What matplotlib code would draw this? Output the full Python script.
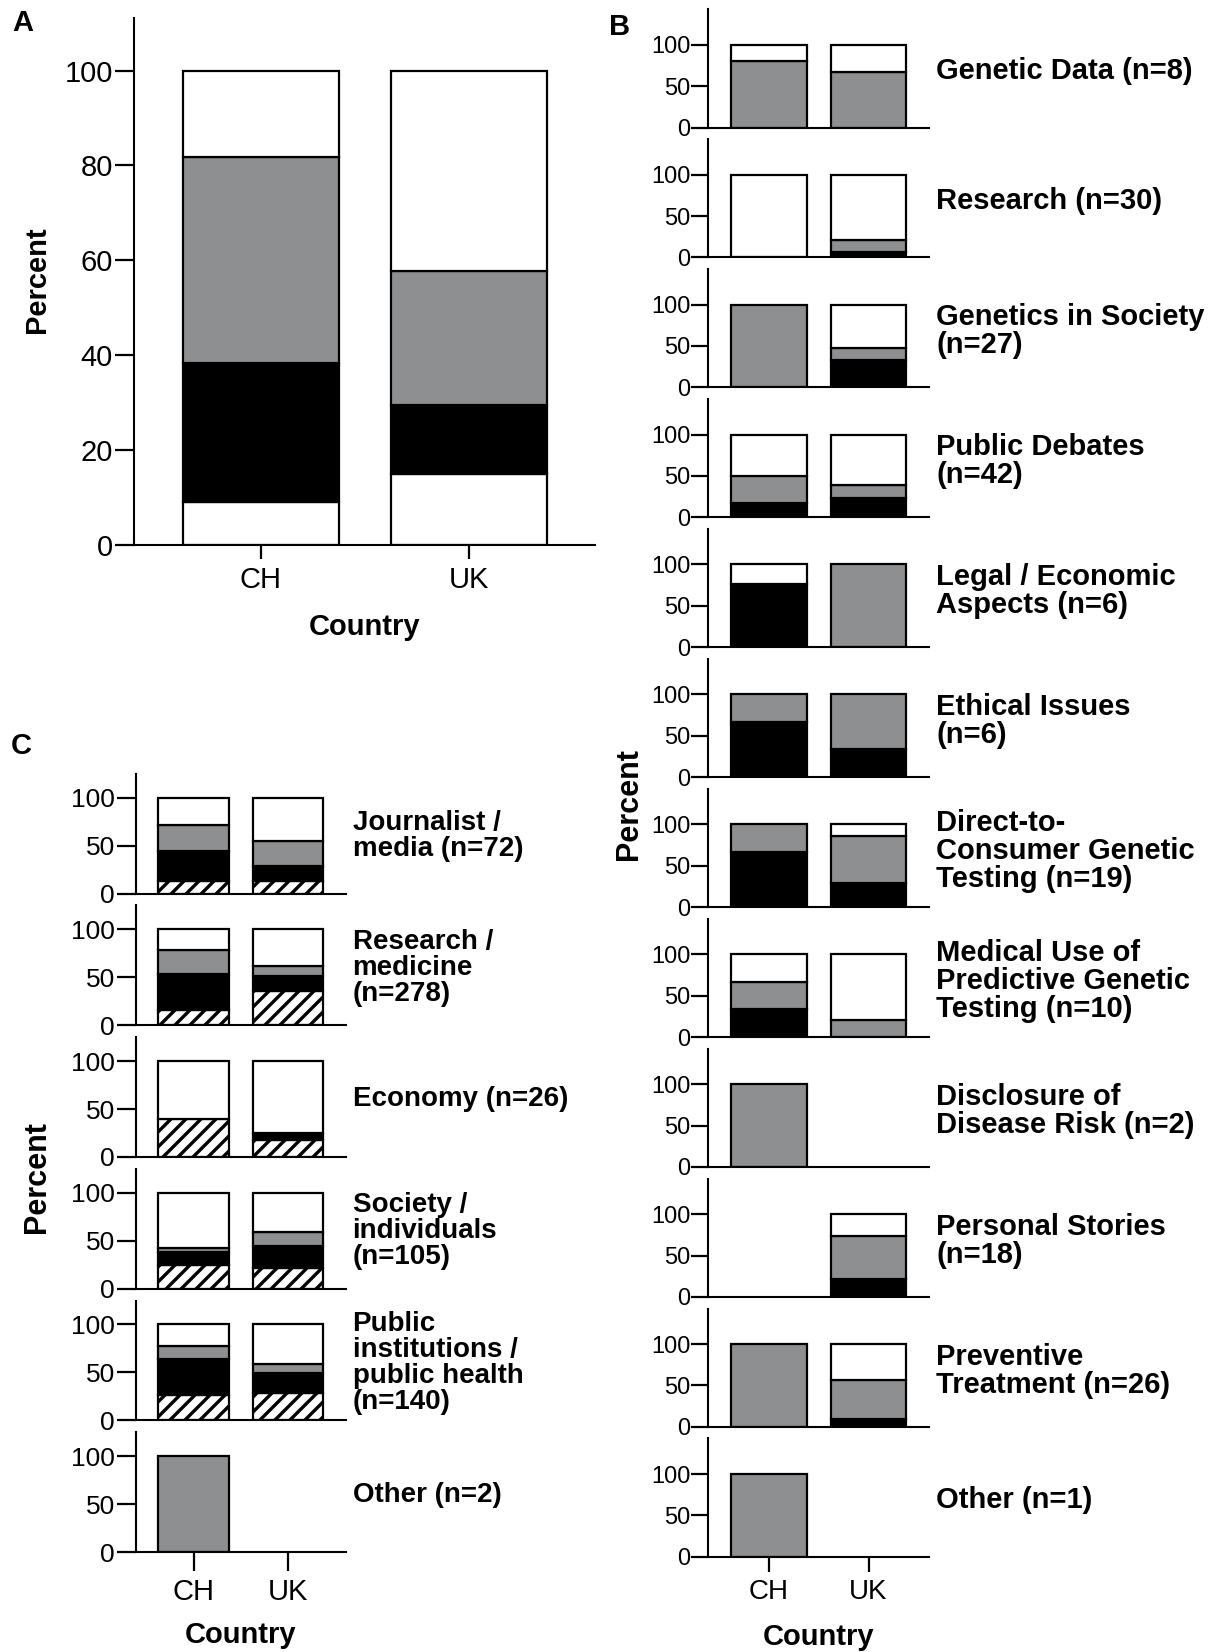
import matplotlib
matplotlib.use("Agg")
import matplotlib.pyplot as plt
import matplotlib.transforms as mtransforms
from matplotlib import font_manager

# dpi 90 gives a hatch spacing close to the original; K rescales point sizes
DPI = 90
K = 100 / DPI

plt.rcParams["font.family"] = ["Liberation Sans", "DejaVu Sans"]
plt.rcParams["hatch.linewidth"] = 2.7

names = {f.name for f in font_manager.fontManager.ttflist}
HAS_NARROW = "Liberation Sans Narrow" in names
NARROW = "Liberation Sans Narrow" if HAS_NARROW else "Liberation Sans"

GRAY = "#8e8f91"

# ---------------- data ----------------
countries = ["CH", "UK"]

# Panel A, segments bottom -> top (percent)
a_white_low = [9.0, 15.0]
a_black = [29.4, 14.5]
a_gray = [43.4, 28.3]
a_white_top = [18.2, 42.2]

# Panel B: topics, segments black / gray / white
b_topics = [
    "Genetic Data (n=8)",
    "Research (n=30)",
    "Genetics in Society\n(n=27)",
    "Public Debates\n(n=42)",
    "Legal / Economic\nAspects (n=6)",
    "Ethical Issues\n(n=6)",
    "Direct-to-\nConsumer Genetic\nTesting (n=19)",
    "Medical Use of\nPredictive Genetic\nTesting (n=10)",
    "Disclosure of\nDisease Risk (n=2)",
    "Personal Stories\n(n=18)",
    "Preventive\nTreatment (n=26)",
    "Other (n=1)",
]
b_black_ch = [0, 0, 0, 17, 76, 67, 67, 34, 0, 0, 0, 0]
b_gray_ch = [80, 0, 100, 33, 0, 33, 33, 33, 100, 0, 100, 100]
b_white_ch = [20, 100, 0, 50, 24, 0, 0, 33, 0, 0, 0, 0]
b_black_uk = [0, 6, 33, 23, 0, 34, 29, 0, 0, 21, 9.5, 0]
b_gray_uk = [67, 15, 14, 15.5, 100, 66, 57, 20, 0, 52.5, 47.5, 0]
b_white_uk = [33, 79, 53, 61.5, 0, 0, 14, 80, 0, 26.5, 43, 0]

# Panel C: sources, segments hatched / black / gray / white
c_topics = [
    "Journalist /\nmedia (n=72)",
    "Research /\nmedicine\n(n=278)",
    "Economy (n=26)",
    "Society /\nindividuals\n(n=105)",
    "Public\ninstitutions /\npublic health\n(n=140)",
    "Other (n=2)",
]
c_hatch_ch = [13, 16, 40, 25, 26, 0]
c_black_ch = [31, 37, 0, 13, 38, 0]
c_gray_ch = [28, 25, 0, 4, 14, 100]
c_white_ch = [28, 22, 60, 58, 22, 0]
c_hatch_uk = [13, 36, 18, 22, 29, 0]
c_black_uk = [15.5, 15, 7, 23, 20, 0]
c_gray_uk = [26, 11, 0, 14, 10, 0]
c_white_uk = [45.5, 38, 75, 41, 41, 0]

# ---------------- figure ----------------
W, H = 1214, 1652
fig = plt.figure(figsize=(W / DPI, H / DPI), dpi=DPI)


def rect(left, top, right, bottom):
    return [left / W, 1 - bottom / H, (right - left) / W, (bottom - top) / H]


def stack(ax, segs, width=0.75):
    bottoms = [0.0, 0.0]
    for i in range(2):
        total = 0
        for vals, fc, hatch in segs:
            v = vals[i]
            if v <= 0:
                continue
            ax.bar(i, v, width, bottom=bottoms[i], color=fc, edgecolor="black",
                   linewidth=1.6 * K, hatch=hatch)
            bottoms[i] += v
            total += v
        if total == 0:
            ax.bar(i, 0, width, color="white", edgecolor="black", linewidth=2.0 * K)


def style(ax, ytop, yticks, yfs, yfont, ylen, show_x, xfs, xlen):
    ax.set_xlim(-0.61, 1.61)
    ax.set_ylim(0, ytop)
    ax.patch.set_visible(False)
    ax.spines[["top", "right"]].set_visible(False)
    for s in ("left", "bottom"):
        ax.spines[s].set_linewidth(1.5 * K)
    ax.set_yticks(yticks)
    ax.tick_params(axis="y", length=ylen * K, width=1.6 * K, pad=1 * K, labelsize=yfs * K)
    for lab in ax.get_yticklabels():
        lab.set_family(yfont)
    if show_x:
        ax.set_xticks([0, 1], countries)
        ax.tick_params(axis="x", length=xlen * K, width=1.6 * K, pad=5 * K,
                       labelsize=xfs * K)
    else:
        ax.set_xticks([])


# Panel A
axA = fig.add_axes(rect(133.8, 18.4, 595.4, 544.8))
stack(axA, [(a_white_low, "white", None), (a_black, "black", None),
            (a_gray, GRAY, None), (a_white_top, "white", None)])
style(axA, 111, [0, 20, 40, 60, 80, 100], 21, "Liberation Sans", 14, True, 21, 10)

fig.text(0.019, 0.9862, "A", fontsize=21 * K, fontweight="bold", ha="center", va="center")
fig.text(0.3003, 1 - 627 / H, "Country", fontsize=21 * K, fontweight="bold",
         ha="center", va="center")
fig.text(0.0305, 1 - 280 / H, "Percent", fontsize=21 * K, fontweight="bold", rotation=90,
         ha="center", va="center")

# Panel B
b_fs = 20 if HAS_NARROW else 17
for i, topic in enumerate(b_topics):
    bottom = 127.5 + 129.93 * i
    ax = fig.add_axes(rect(708.2, bottom - 118.3, 929.4, bottom))
    stack(ax, [([b_black_ch[i], b_black_uk[i]], "black", None),
               ([b_gray_ch[i], b_gray_uk[i]], GRAY, None),
               ([b_white_ch[i], b_white_uk[i]], "white", None)], width=0.76)
    style(ax, 143, [0, 50, 100], b_fs, NARROW, 12, i == len(b_topics) - 1, 20, 11)
    tr = mtransforms.blended_transform_factory(ax.transAxes, ax.transData)
    ax.text(1 + 7 / 221.2, 68, topic, transform=tr, fontsize=21 * K, fontweight="bold",
            ha="left", va="center", linespacing=1.0)

fig.text(0.5104, 0.9834, "B", fontsize=21 * K, fontweight="bold", ha="center", va="center")
fig.text((708.2 + 929.4) / 2 / W, 1 - 1637 / H, "Country", fontsize=21 * K,
         fontweight="bold", ha="center", va="center")
fig.text(629 / W, 1 - 804 / H, "Percent", fontsize=22 * K, fontweight="bold", rotation=90,
         ha="center", va="center")

# Panel C
c_fs = 22 if HAS_NARROW else 19
for i, topic in enumerate(c_topics):
    bottom = 893.6 + 131.7 * i
    ax = fig.add_axes(rect(135.9, bottom - 119.9, 345.6, bottom))
    stack(ax, [([c_hatch_ch[i], c_hatch_uk[i]], "white", "//"),
               ([c_black_ch[i], c_black_uk[i]], "black", None),
               ([c_gray_ch[i], c_gray_uk[i]], GRAY, None),
               ([c_white_ch[i], c_white_uk[i]], "white", None)], width=0.745)
    style(ax, 125, [0, 50, 100], c_fs, NARROW, 14, i == len(c_topics) - 1, 21, 14)
    tr = mtransforms.blended_transform_factory(ax.transAxes, ax.transData)
    ax.text(1 + 7 / 209.7, 60, topic, transform=tr, fontsize=20 * K, fontweight="bold",
            ha="left", va="center", linespacing=1.0)

fig.text(0.0173, 1 - 746 / H, "C", fontsize=21 * K, fontweight="bold", ha="center",
         va="center")
fig.text((135.9 + 345.6) / 2 / W, 1 - 1635 / H, "Country", fontsize=21 * K,
         fontweight="bold", ha="center", va="center")
fig.text(0.0305, 1 - 1177 / H, "Percent", fontsize=22 * K, fontweight="bold", rotation=90,
         ha="center", va="center")

fig.savefig("out.png", dpi=DPI)
